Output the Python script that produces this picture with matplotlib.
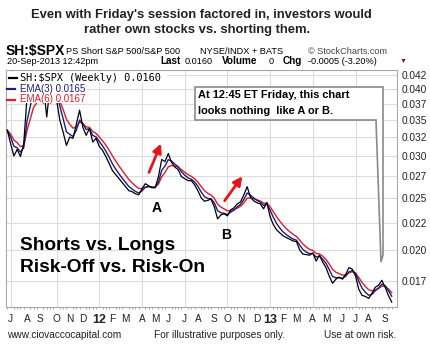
import pandas as pd
import matplotlib
matplotlib.use("Agg")
import matplotlib.pyplot as plt
import matplotlib.dates as mdates
from matplotlib.patches import Polygon, Rectangle, FancyArrowPatch
from matplotlib.lines import Line2D

plt.rcParams['font.family'] = ['Liberation Sans', 'DejaVu Sans']

# weekly SH:$SPX ratio, Fridays from 24-Jun-2011 to 20-Sep-2013
weeks = pd.date_range('2011-06-24', periods=118, freq='W-FRI')
ratio = [
    0.03350, 0.03166, 0.03000, 0.03085, 0.02993, 0.03166, 0.03864, 0.03949,
    0.04159, 0.03949, 0.03983, 0.04053, 0.03548, 0.04053, 0.04195, 0.03814,
    0.03498, 0.03321, 0.03139, 0.03254, 0.03236, 0.03438, 0.03653, 0.03394,
    0.03278, 0.03379, 0.03185, 0.03236, 0.03126, 0.03072, 0.02993, 0.02904,
    0.02817, 0.02769, 0.02721, 0.02675, 0.02629, 0.02584, 0.02573, 0.02550,
    0.02539, 0.02606, 0.02663, 0.02640, 0.02617, 0.02617, 0.02745, 0.02955,
    0.02929, 0.03032, 0.02917, 0.02860, 0.02829, 0.02745, 0.02721, 0.02698,
    0.02698, 0.02651, 0.02584, 0.02506, 0.02469, 0.02479, 0.02492, 0.02411,
    0.02289, 0.02329, 0.02339, 0.02319, 0.02380, 0.02400, 0.02442, 0.02463,
    0.02539, 0.02629, 0.02512, 0.02474, 0.02453, 0.02442, 0.02390, 0.02456,
    0.02309, 0.02231, 0.02182, 0.02154, 0.02127, 0.02111, 0.02097, 0.02081,
    0.02077, 0.02002, 0.01967, 0.01963, 0.01958, 0.01976, 0.01909, 0.01958,
    0.01901, 0.01856, 0.01789, 0.01735, 0.01766, 0.01781, 0.01766, 0.01804,
    0.01856, 0.01844, 0.01789, 0.01690, 0.01647, 0.01640, 0.01626, 0.01662,
    0.01706, 0.01720, 0.01758, 0.01706, 0.01647, 0.01600,
]

y_ticks = [0.0175, 0.02, 0.0225, 0.025, 0.0275, 0.03, 0.0325, 0.035, 0.0375, 0.04, 0.0425]
y_labels = ['0.017', '0.020', '0.022', '0.025', '0.027', '0.030', '0.032', '0.035', '0.037', '0.040', '0.042']
month_labels = ['J', 'A', 'S', 'O', 'N', 'D', '12', 'F', 'M', 'A', 'M', 'J', 'J', 'A', 'S',
                'O', 'N', 'D', '13', 'F', 'M', 'A', 'M', 'J', 'J', 'A', 'S']

W, H = 430, 351


def px(x, y):
    return x / W, 1 - y / H


s = pd.Series(ratio, index=weeks)
ema3 = s.ewm(span=3, adjust=False).mean()
ema6 = s.ewm(span=6, adjust=False).mean()

fig = plt.figure(figsize=(W / 100, H / 100), dpi=100)
ax = fig.add_axes([6 / W, (H - 307) / H, (397 - 6) / W, (307 - 70) / H])

ax.plot(weeks, ema6.values, color='#e31b23', lw=1.0, zorder=3)
ax.plot(weeks, ema3.values, color='#1c1c86', lw=1.0, zorder=4)
ax.plot(weeks, s.values, color='black', lw=0.9, zorder=5)

ax.set_yscale('log')
ax.set_ylim(0.01567, 0.04342)
ax.set_xlim(weeks[0] - pd.Timedelta(days=2.8), weeks[-1] + pd.Timedelta(days=11.3))

ax.yaxis.tick_right()
ax.set_yticks(y_ticks)
ax.set_yticklabels(y_labels)
ax.yaxis.set_minor_locator(matplotlib.ticker.NullLocator())
ax.tick_params(axis='y', length=0, pad=3, labelsize=7.3, colors='#222222')

# month ticks at first Friday of each month
firsts = pd.date_range('2011-07-01', '2013-09-01', freq='MS')
month_ticks = [weeks[weeks >= d][0] for d in firsts]
ax.set_xticks(month_ticks)
ax.set_xticklabels(month_labels)
ax.tick_params(axis='x', length=0, pad=5, labelsize=7.3, colors='#222222')
for lab in ax.get_xticklabels():
    if lab.get_text() in ('12', '13'):
        lab.set_fontweight('bold')
        lab.set_fontsize(9)
ax.set_xticks(weeks, minor=True)
ax.tick_params(axis='x', which='minor', length=1.5, color='#999999', width=0.6)

ax.grid(axis='y', color='#dcdcdc', lw=0.8)
for d in month_ticks[::3]:
    ax.axvline(d, color='#dcdcdc', lw=0.8, zorder=0)
for sp in ax.spines.values():
    sp.set_color('#a8a8a8')
    sp.set_linewidth(0.8)

# legend rows with white backing
fig.add_artist(Rectangle(px(7, 83), 160 / W, 11 / H, transform=fig.transFigure,
                         facecolor='white', edgecolor='none', zorder=2))
fig.add_artist(Rectangle(px(7, 103), 80 / W, 20 / H, transform=fig.transFigure,
                         facecolor='white', edgecolor='none', zorder=2))
legend_rows = [(78, 'black', 'SH:$SPX (Weekly) 0.0160', 'DejaVu Sans Mono', 7.4),
               (89, '#1c1c86', 'EMA(3) 0.0165', 'Liberation Sans', 7.0),
               (99.5, '#e31b23', 'EMA(6) 0.0167', 'Liberation Sans', 7.0)]
for yy, col, txt, fam, fs in legend_rows:
    x0 = 9 if col == 'black' else 7
    fig.add_artist(Line2D([x0 / W, (x0 + 8) / W], [1 - yy / H, 1 - yy / H],
                          transform=fig.transFigure, color=col, lw=1.6, zorder=3))
    fig.text(*px(20, yy), txt, color=col, fontsize=fs, family=fam, va='center', zorder=4)

# callout box
box = [(195, 87), (383, 87), (383, 255), (381, 262), (376, 120), (195, 120)]
fig.add_artist(Polygon([px(x, y) for x, y in box], closed=True, transform=fig.transFigure,
                       facecolor='white', edgecolor='#8a8a8a', lw=1.2, zorder=5))
fig.text(*px(198, 95), 'At 12:45 ET Friday, this chart', fontsize=7.9, fontweight='bold',
         va='center', zorder=6)
fig.text(*px(198, 111), 'looks nothing  like A or B.', fontsize=7.9, fontweight='bold',
         va='center', zorder=6)

# arrows and labels
for (x0, y0), (x1, y1) in [((148, 175), (162, 141)), ((223, 203), (244, 174))]:
    fig.add_artist(FancyArrowPatch(px(x0, y0), px(x1, y1), transform=fig.transFigure,
                                   arrowstyle='-|>', mutation_scale=13, color='#e8141c',
                                   lw=2, zorder=6))
fig.text(*px(157, 208), 'A', fontsize=10, fontweight='bold', ha='center', va='center')
fig.text(*px(226, 235), 'B', fontsize=10, fontweight='bold', ha='center', va='center')

fig.text(*px(20, 246), 'Shorts vs. Longs', fontsize=13.8, fontweight='bold', va='center')
fig.text(*px(20, 268), 'Risk-Off vs. Risk-On', fontsize=13.8, fontweight='bold', va='center')

# title and header
fig.text(*px(201, 15), "Even with Friday's session factored in, investors would",
         fontsize=9.4, fontweight='bold', ha='center', va='center', color='#222222')
fig.text(*px(197, 30), "rather own stocks vs. shorting them.",
         fontsize=9.4, fontweight='bold', ha='center', va='center', color='#222222')
fig.text(*px(6, 51.5), 'SH:$SPX', fontsize=10, fontweight='bold', va='center')
fig.text(*px(66, 52), 'PS Short S&P 500/S&P 500', fontsize=6.6, va='center')
fig.text(*px(200, 52), 'NYSE/INDX + BATS', fontsize=6.6, va='center')
fig.text(*px(308, 52), '\u00a9 StockCharts.com', fontsize=6.6, va='center', color='#444444')
fig.text(*px(7, 61.5), '20-Sep-2013 12:42pm', fontsize=6.6, va='center')
fig.text(*px(160, 61.5), 'Last', fontsize=7.2, fontweight='bold', va='center')
fig.text(*px(185, 61.5), '0.0160', fontsize=6.6, va='center')
fig.text(*px(222, 61.5), 'Volume', fontsize=7.2, fontweight='bold', va='center')
fig.text(*px(269, 61.5), '0', fontsize=6.6, va='center')
fig.text(*px(283, 61.5), 'Chg', fontsize=7.2, fontweight='bold', va='center')
fig.text(*px(308, 61.5), '-0.0005 (-3.20%)', fontsize=6.6, va='center')
fig.text(*px(400, 61.5), '\u25bc', fontsize=5, va='center', color='#8b1a3a')

# footer
fig.text(*px(7, 335), 'www.ciovaccocapital.com', fontsize=7.3, va='center', color='#222222')
fig.text(*px(154, 335), 'For illustrative purposes only.', fontsize=7.3, va='center', color='#222222')
fig.text(*px(324, 335), 'Use at own risk.', fontsize=7.3, va='center', color='#222222')

fig.savefig('out.png', dpi=100)
